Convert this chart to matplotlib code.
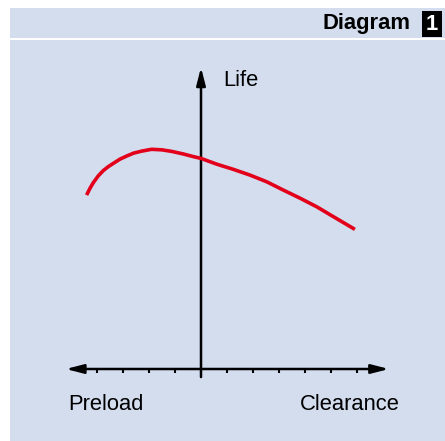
import numpy as np
import matplotlib
matplotlib.use("Agg")
import matplotlib.pyplot as plt
from matplotlib.patches import Rectangle

plt.rcParams['font.family'] = ['Liberation Sans', 'DejaVu Sans']

# life curve (x in tick units, negative = preload)
clearance = [-4.40, -4.27, -4.14, -3.95, -3.76, -3.57, -3.37, -3.12, -2.86,
             -2.60, -2.28, -1.90, -1.51, -1.13, -0.68, -0.30, 0.0,
             0.60, 1.24, 1.88, 2.53, 3.17, 3.81, 4.45, 5.09, 5.92]
life = [6.69, 6.95, 7.17, 7.43, 7.63, 7.78, 7.91, 8.07, 8.19,
        8.30, 8.38, 8.45, 8.43, 8.37, 8.27, 8.17, 8.10,
        7.88, 7.68, 7.46, 7.20, 6.88, 6.57, 6.24, 5.86, 5.37]
tick_pos = [-4, -3, -2, -1, 1, 2, 3, 4, 5, 6]

title_text = "Diagram"
badge_text = "1"
left_label = "Preload"
right_label = "Clearance"
y_label = "Life"

W, H = 445, 441
bg = '#d3ddee'
red = '#e2001a'

fig = plt.figure(figsize=(W / 100, H / 100), dpi=100)
fig.patch.set_facecolor('white')


def px_rect(x0, y0, x1, y1, color):
    # rectangle in pixel coords (origin top-left)
    r = Rectangle((x0 / W, 1 - y1 / H), (x1 - x0) / W, (y1 - y0) / H,
                  transform=fig.transFigure, facecolor=color, edgecolor='none', zorder=-2)
    fig.add_artist(r)


px_rect(10, 8, W, 38, bg)      # header band
px_rect(10, 40, W, H, bg)      # main panel
px_rect(422, 11, 442, 37, 'black')

fig.text(410 / W, 1 - 23 / H, title_text, ha='right', va='center',
         fontsize=15.8, fontweight='bold', color='black')
fig.text(432 / W, 1 - 24 / H, badge_text, ha='center', va='center',
         fontsize=15.8, fontweight='bold', color='white')

ax = fig.add_axes([0, 0, 1, 1])
ax.set_zorder(1)
ax.patch.set_alpha(0)
ax.set_xlim(-201 / 26, (W - 201) / 26)
ax.set_ylim((369 - H) / 26, 369 / 26)
ax.axis('off')

# axes with arrows
ax.annotate('', xy=(7.23, 0), xytext=(-5.2, 0),
            arrowprops=dict(arrowstyle='<|-|>,head_length=0.7,head_width=0.18',
                            mutation_scale=15, lw=1.8, color='black',
                            shrinkA=0, shrinkB=0))
ax.annotate('', xy=(0, 11.6), xytext=(0, -0.31),
            arrowprops=dict(arrowstyle='-|>,head_length=0.7,head_width=0.18',
                            mutation_scale=15, lw=1.8, color='black',
                            shrinkA=0, shrinkB=0))
ax.vlines(tick_pos, -0.16, 0, color='black', lw=1.5)

ax.plot(clearance, life, color=red, lw=2.6, solid_capstyle='butt',
        solid_joinstyle='round', zorder=3)

ax.text(-5.12, -1.38, left_label, ha='left', va='center', fontsize=15.8)
ax.text(7.65, -1.38, right_label, ha='right', va='center', fontsize=15.8)
ax.text(0.85, 11.1, y_label, ha='left', va='center', fontsize=15.8)

fig.savefig('out.png', dpi=100, facecolor=fig.get_facecolor())
